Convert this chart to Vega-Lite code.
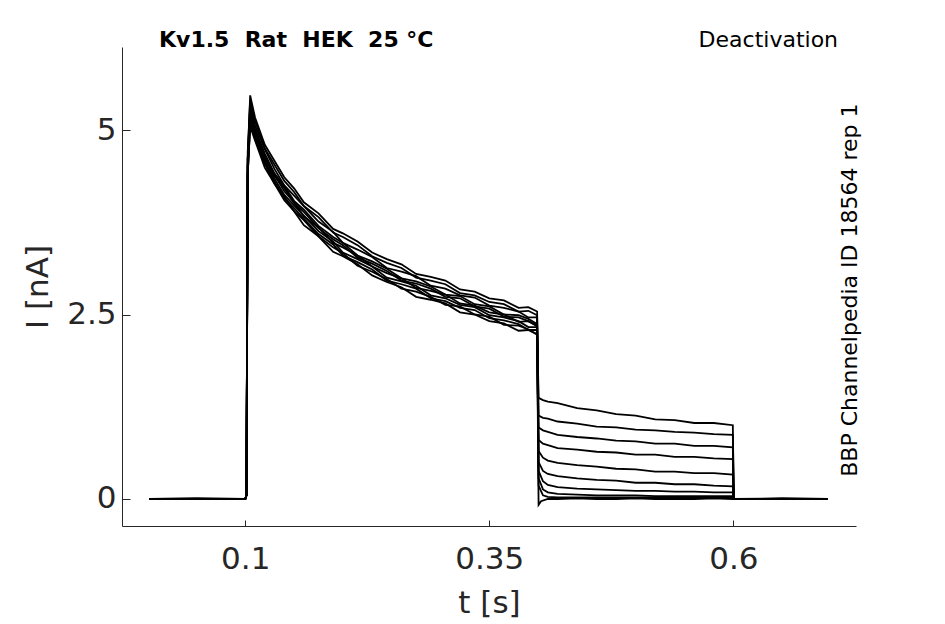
{
  "$schema": "https://vega.github.io/schema/vega-lite/v6.json",
  "width": 734,
  "height": 479,
  "autosize": {"type": "none"},
  "padding": {"left": 122, "top": 47, "right": 89, "bottom": 98},
  "background": "white",
  "config": {
    "view": {"stroke": null},
    "font": "DejaVu Sans",
    "axis": {
      "grid": false,
      "labelFont": "DejaVu Sans",
      "titleFont": "DejaVu Sans",
      "labelFontSize": 31,
      "titleFontSize": 31,
      "titleFontWeight": "normal",
      "labelColor": "#262626",
      "titleColor": "#262626",
      "domainColor": "#262626",
      "tickColor": "#262626",
      "domainWidth": 1,
      "tickWidth": 1
    }
  },
  "datasets": {
    "traces": [
      {"s":1,"t":0.002,"i":0},{"s":1,"t":0.05,"i":0.01},{"s":1,"t":0.1,"i":0},{"s":1,"t":0.1012,"i":0.05},{"s":1,"t":0.1025,"i":4.6},{"s":1,"t":0.105,"i":5.28},
      {"s":1,"t":0.11,"i":5.02},{"s":1,"t":0.12,"i":4.68},{"s":1,"t":0.13,"i":4.41},{"s":1,"t":0.14,"i":4.24},{"s":1,"t":0.15,"i":4.04},{"s":1,"t":0.16,"i":3.92},{"s":1,"t":0.175,"i":3.70},{"s":1,"t":0.19,"i":3.55},{"s":1,"t":0.2,"i":3.47},{"s":1,"t":0.215,"i":3.30},{"s":1,"t":0.23,"i":3.22},{"s":1,"t":0.245,"i":3.12},{"s":1,"t":0.26,"i":2.99},{"s":1,"t":0.275,"i":2.95},{"s":1,"t":0.29,"i":2.88},{"s":1,"t":0.305,"i":2.77},{"s":1,"t":0.32,"i":2.75},{"s":1,"t":0.335,"i":2.64},{"s":1,"t":0.35,"i":2.61},{"s":1,"t":0.365,"i":2.50},{"s":1,"t":0.38,"i":2.49},{"s":1,"t":0.39,"i":2.44},{"s":1,"t":0.399,"i":2.37},
      {"s":1,"t":0.4005,"i":1.37},{"s":1,"t":0.405,"i":1.34},{"s":1,"t":0.41,"i":1.32},{"s":1,"t":0.42,"i":1.30},{"s":1,"t":0.44,"i":1.23},{"s":1,"t":0.46,"i":1.20},{"s":1,"t":0.48,"i":1.15},{"s":1,"t":0.5,"i":1.13},{"s":1,"t":0.52,"i":1.08},{"s":1,"t":0.54,"i":1.07},{"s":1,"t":0.56,"i":1.03},{"s":1,"t":0.58,"i":1.03},{"s":1,"t":0.5995,"i":1.00},
      {"s":1,"t":0.6005,"i":0},{"s":1,"t":0.65,"i":0},{"s":1,"t":0.697,"i":0},

      {"s":2,"t":0.002,"i":0},{"s":2,"t":0.05,"i":0},{"s":2,"t":0.1,"i":0},{"s":2,"t":0.1012,"i":0.05},{"s":2,"t":0.1025,"i":4.6},{"s":2,"t":0.105,"i":5.47},
      {"s":2,"t":0.11,"i":5.17},{"s":2,"t":0.12,"i":4.80},{"s":2,"t":0.13,"i":4.58},{"s":2,"t":0.14,"i":4.36},{"s":2,"t":0.15,"i":4.21},{"s":2,"t":0.16,"i":4.02},{"s":2,"t":0.175,"i":3.87},{"s":2,"t":0.19,"i":3.66},{"s":2,"t":0.2,"i":3.60},{"s":2,"t":0.215,"i":3.49},{"s":2,"t":0.23,"i":3.34},{"s":2,"t":0.245,"i":3.25},{"s":2,"t":0.26,"i":3.18},{"s":2,"t":0.275,"i":3.05},{"s":2,"t":0.29,"i":3.01},{"s":2,"t":0.305,"i":2.96},{"s":2,"t":0.32,"i":2.84},{"s":2,"t":0.335,"i":2.81},{"s":2,"t":0.35,"i":2.72},{"s":2,"t":0.365,"i":2.69},{"s":2,"t":0.38,"i":2.59},{"s":2,"t":0.39,"i":2.60},{"s":2,"t":0.399,"i":2.54},
      {"s":2,"t":0.4005,"i":1.13},{"s":2,"t":0.405,"i":1.10},{"s":2,"t":0.41,"i":1.09},{"s":2,"t":0.42,"i":1.05},{"s":2,"t":0.44,"i":1.02},{"s":2,"t":0.46,"i":0.98},{"s":2,"t":0.48,"i":0.97},{"s":2,"t":0.5,"i":0.94},{"s":2,"t":0.52,"i":0.93},{"s":2,"t":0.54,"i":0.91},{"s":2,"t":0.56,"i":0.90},{"s":2,"t":0.58,"i":0.88},{"s":2,"t":0.5995,"i":0.87},
      {"s":2,"t":0.6005,"i":0},{"s":2,"t":0.65,"i":0.01},{"s":2,"t":0.697,"i":0},

      {"s":3,"t":0.002,"i":0},{"s":3,"t":0.05,"i":0},{"s":3,"t":0.1,"i":0},{"s":3,"t":0.1012,"i":0.05},{"s":3,"t":0.1025,"i":4.5},{"s":3,"t":0.105,"i":5.18},
      {"s":3,"t":0.11,"i":4.93},{"s":3,"t":0.12,"i":4.61},{"s":3,"t":0.13,"i":4.34},{"s":3,"t":0.14,"i":4.12},{"s":3,"t":0.15,"i":3.98},{"s":3,"t":0.16,"i":3.84},{"s":3,"t":0.175,"i":3.63},{"s":3,"t":0.19,"i":3.49},{"s":3,"t":0.2,"i":3.34},{"s":3,"t":0.215,"i":3.25},{"s":3,"t":0.23,"i":3.15},{"s":3,"t":0.245,"i":3.00},{"s":3,"t":0.26,"i":2.95},{"s":3,"t":0.275,"i":2.89},{"s":3,"t":0.29,"i":2.76},{"s":3,"t":0.305,"i":2.72},{"s":3,"t":0.32,"i":2.63},{"s":3,"t":0.335,"i":2.60},{"s":3,"t":0.35,"i":2.49},{"s":3,"t":0.365,"i":2.46},{"s":3,"t":0.38,"i":2.41},{"s":3,"t":0.39,"i":2.33},{"s":3,"t":0.399,"i":2.33},
      {"s":3,"t":0.4005,"i":0.97},{"s":3,"t":0.405,"i":0.93},{"s":3,"t":0.41,"i":0.91},{"s":3,"t":0.42,"i":0.87},{"s":3,"t":0.44,"i":0.84},{"s":3,"t":0.46,"i":0.82},{"s":3,"t":0.48,"i":0.79},{"s":3,"t":0.5,"i":0.78},{"s":3,"t":0.52,"i":0.75},{"s":3,"t":0.54,"i":0.75},{"s":3,"t":0.56,"i":0.72},{"s":3,"t":0.58,"i":0.72},{"s":3,"t":0.5995,"i":0.70},
      {"s":3,"t":0.6005,"i":0},{"s":3,"t":0.65,"i":0},{"s":3,"t":0.697,"i":0},

      {"s":4,"t":0.002,"i":0},{"s":4,"t":0.05,"i":0},{"s":4,"t":0.1,"i":0},{"s":4,"t":0.1012,"i":0.05},{"s":4,"t":0.1025,"i":4.6},{"s":4,"t":0.105,"i":5.34},
      {"s":4,"t":0.11,"i":5.06},{"s":4,"t":0.12,"i":4.74},{"s":4,"t":0.13,"i":4.47},{"s":4,"t":0.14,"i":4.25},{"s":4,"t":0.15,"i":4.11},{"s":4,"t":0.16,"i":3.97},{"s":4,"t":0.175,"i":3.76},{"s":4,"t":0.19,"i":3.62},{"s":4,"t":0.2,"i":3.47},{"s":4,"t":0.215,"i":3.38},{"s":4,"t":0.23,"i":3.28},{"s":4,"t":0.245,"i":3.13},{"s":4,"t":0.26,"i":3.08},{"s":4,"t":0.275,"i":3.02},{"s":4,"t":0.29,"i":2.89},{"s":4,"t":0.305,"i":2.85},{"s":4,"t":0.32,"i":2.76},{"s":4,"t":0.335,"i":2.73},{"s":4,"t":0.35,"i":2.62},{"s":4,"t":0.365,"i":2.59},{"s":4,"t":0.38,"i":2.54},{"s":4,"t":0.39,"i":2.46},{"s":4,"t":0.399,"i":2.46},
      {"s":4,"t":0.4005,"i":0.80},{"s":4,"t":0.405,"i":0.75},{"s":4,"t":0.41,"i":0.73},{"s":4,"t":0.42,"i":0.69},{"s":4,"t":0.44,"i":0.67},{"s":4,"t":0.46,"i":0.64},{"s":4,"t":0.48,"i":0.63},{"s":4,"t":0.5,"i":0.60},{"s":4,"t":0.52,"i":0.60},{"s":4,"t":0.54,"i":0.57},{"s":4,"t":0.56,"i":0.57},{"s":4,"t":0.58,"i":0.55},{"s":4,"t":0.5995,"i":0.54},
      {"s":4,"t":0.6005,"i":0},{"s":4,"t":0.65,"i":0},{"s":4,"t":0.697,"i":0},

      {"s":5,"t":0.002,"i":0},{"s":5,"t":0.05,"i":0},{"s":5,"t":0.1,"i":0},{"s":5,"t":0.1012,"i":0.05},{"s":5,"t":0.1025,"i":4.4},{"s":5,"t":0.105,"i":5.05},
      {"s":5,"t":0.11,"i":4.86},{"s":5,"t":0.12,"i":4.49},{"s":5,"t":0.13,"i":4.27},{"s":5,"t":0.14,"i":4.05},{"s":5,"t":0.15,"i":3.90},{"s":5,"t":0.16,"i":3.71},{"s":5,"t":0.175,"i":3.56},{"s":5,"t":0.19,"i":3.35},{"s":5,"t":0.2,"i":3.29},{"s":5,"t":0.215,"i":3.18},{"s":5,"t":0.23,"i":3.03},{"s":5,"t":0.245,"i":2.94},{"s":5,"t":0.26,"i":2.87},{"s":5,"t":0.275,"i":2.74},{"s":5,"t":0.29,"i":2.70},{"s":5,"t":0.305,"i":2.65},{"s":5,"t":0.32,"i":2.53},{"s":5,"t":0.335,"i":2.50},{"s":5,"t":0.35,"i":2.41},{"s":5,"t":0.365,"i":2.38},{"s":5,"t":0.38,"i":2.28},{"s":5,"t":0.39,"i":2.29},{"s":5,"t":0.399,"i":2.23},
      {"s":5,"t":0.4005,"i":0.65},{"s":5,"t":0.405,"i":0.56},{"s":5,"t":0.41,"i":0.52},{"s":5,"t":0.42,"i":0.49},{"s":5,"t":0.44,"i":0.46},{"s":5,"t":0.46,"i":0.44},{"s":5,"t":0.48,"i":0.41},{"s":5,"t":0.5,"i":0.40},{"s":5,"t":0.52,"i":0.37},{"s":5,"t":0.54,"i":0.37},{"s":5,"t":0.56,"i":0.35},{"s":5,"t":0.58,"i":0.35},{"s":5,"t":0.5995,"i":0.33},
      {"s":5,"t":0.6005,"i":0},{"s":5,"t":0.65,"i":0},{"s":5,"t":0.697,"i":0},

      {"s":6,"t":0.002,"i":0},{"s":6,"t":0.05,"i":0},{"s":6,"t":0.1,"i":0},{"s":6,"t":0.1012,"i":0.05},{"s":6,"t":0.1025,"i":4.5},{"s":6,"t":0.105,"i":5.24},
      {"s":6,"t":0.11,"i":4.99},{"s":6,"t":0.12,"i":4.65},{"s":6,"t":0.13,"i":4.38},{"s":6,"t":0.14,"i":4.21},{"s":6,"t":0.15,"i":4.01},{"s":6,"t":0.16,"i":3.89},{"s":6,"t":0.175,"i":3.67},{"s":6,"t":0.19,"i":3.52},{"s":6,"t":0.2,"i":3.44},{"s":6,"t":0.215,"i":3.27},{"s":6,"t":0.23,"i":3.19},{"s":6,"t":0.245,"i":3.09},{"s":6,"t":0.26,"i":2.96},{"s":6,"t":0.275,"i":2.92},{"s":6,"t":0.29,"i":2.85},{"s":6,"t":0.305,"i":2.74},{"s":6,"t":0.32,"i":2.72},{"s":6,"t":0.335,"i":2.61},{"s":6,"t":0.35,"i":2.58},{"s":6,"t":0.365,"i":2.47},{"s":6,"t":0.38,"i":2.46},{"s":6,"t":0.39,"i":2.41},{"s":6,"t":0.399,"i":2.34},
      {"s":6,"t":0.4005,"i":0.50},{"s":6,"t":0.405,"i":0.38},{"s":6,"t":0.41,"i":0.34},{"s":6,"t":0.42,"i":0.31},{"s":6,"t":0.44,"i":0.28},{"s":6,"t":0.46,"i":0.26},{"s":6,"t":0.48,"i":0.25},{"s":6,"t":0.5,"i":0.22},{"s":6,"t":0.52,"i":0.22},{"s":6,"t":0.54,"i":0.20},{"s":6,"t":0.56,"i":0.20},{"s":6,"t":0.58,"i":0.18},{"s":6,"t":0.5995,"i":0.17},
      {"s":6,"t":0.6005,"i":0},{"s":6,"t":0.65,"i":0},{"s":6,"t":0.697,"i":0},

      {"s":7,"t":0.002,"i":0},{"s":7,"t":0.05,"i":0},{"s":7,"t":0.1,"i":0},{"s":7,"t":0.1012,"i":0.05},{"s":7,"t":0.1025,"i":4.7},{"s":7,"t":0.105,"i":5.41},
      {"s":7,"t":0.11,"i":5.12},{"s":7,"t":0.12,"i":4.75},{"s":7,"t":0.13,"i":4.53},{"s":7,"t":0.14,"i":4.31},{"s":7,"t":0.15,"i":4.16},{"s":7,"t":0.16,"i":3.97},{"s":7,"t":0.175,"i":3.82},{"s":7,"t":0.19,"i":3.61},{"s":7,"t":0.2,"i":3.55},{"s":7,"t":0.215,"i":3.44},{"s":7,"t":0.23,"i":3.29},{"s":7,"t":0.245,"i":3.20},{"s":7,"t":0.26,"i":3.13},{"s":7,"t":0.275,"i":3.00},{"s":7,"t":0.29,"i":2.96},{"s":7,"t":0.305,"i":2.91},{"s":7,"t":0.32,"i":2.79},{"s":7,"t":0.335,"i":2.76},{"s":7,"t":0.35,"i":2.67},{"s":7,"t":0.365,"i":2.64},{"s":7,"t":0.38,"i":2.54},{"s":7,"t":0.39,"i":2.55},{"s":7,"t":0.399,"i":2.49},
      {"s":7,"t":0.4005,"i":0.38},{"s":7,"t":0.405,"i":0.24},{"s":7,"t":0.41,"i":0.19},{"s":7,"t":0.42,"i":0.16},{"s":7,"t":0.44,"i":0.14},{"s":7,"t":0.46,"i":0.13},{"s":7,"t":0.48,"i":0.12},{"s":7,"t":0.5,"i":0.11},{"s":7,"t":0.52,"i":0.11},{"s":7,"t":0.54,"i":0.10},{"s":7,"t":0.56,"i":0.10},{"s":7,"t":0.58,"i":0.09},{"s":7,"t":0.5995,"i":0.09},
      {"s":7,"t":0.6005,"i":0},{"s":7,"t":0.65,"i":0},{"s":7,"t":0.697,"i":0},

      {"s":8,"t":0.002,"i":0},{"s":8,"t":0.05,"i":0},{"s":8,"t":0.1,"i":0},{"s":8,"t":0.1012,"i":0.05},{"s":8,"t":0.1025,"i":4.4},{"s":8,"t":0.105,"i":5.11},
      {"s":8,"t":0.11,"i":4.89},{"s":8,"t":0.12,"i":4.57},{"s":8,"t":0.13,"i":4.30},{"s":8,"t":0.14,"i":4.08},{"s":8,"t":0.15,"i":3.94},{"s":8,"t":0.16,"i":3.80},{"s":8,"t":0.175,"i":3.59},{"s":8,"t":0.19,"i":3.45},{"s":8,"t":0.2,"i":3.30},{"s":8,"t":0.215,"i":3.21},{"s":8,"t":0.23,"i":3.11},{"s":8,"t":0.245,"i":2.96},{"s":8,"t":0.26,"i":2.91},{"s":8,"t":0.275,"i":2.85},{"s":8,"t":0.29,"i":2.72},{"s":8,"t":0.305,"i":2.68},{"s":8,"t":0.32,"i":2.59},{"s":8,"t":0.335,"i":2.56},{"s":8,"t":0.35,"i":2.45},{"s":8,"t":0.365,"i":2.42},{"s":8,"t":0.38,"i":2.37},{"s":8,"t":0.39,"i":2.29},{"s":8,"t":0.399,"i":2.29},
      {"s":8,"t":0.4005,"i":0.28},{"s":8,"t":0.405,"i":0.13},{"s":8,"t":0.41,"i":0.09},{"s":8,"t":0.42,"i":0.07},{"s":8,"t":0.44,"i":0.06},{"s":8,"t":0.46,"i":0.05},{"s":8,"t":0.48,"i":0.05},{"s":8,"t":0.5,"i":0.05},{"s":8,"t":0.52,"i":0.04},{"s":8,"t":0.54,"i":0.04},{"s":8,"t":0.56,"i":0.04},{"s":8,"t":0.58,"i":0.04},{"s":8,"t":0.5995,"i":0.04},
      {"s":8,"t":0.6005,"i":0},{"s":8,"t":0.65,"i":0},{"s":8,"t":0.697,"i":0},

      {"s":9,"t":0.002,"i":0},{"s":9,"t":0.05,"i":0},{"s":9,"t":0.1,"i":0},{"s":9,"t":0.1012,"i":0.05},{"s":9,"t":0.1025,"i":4.5},{"s":9,"t":0.105,"i":5.20},
      {"s":9,"t":0.11,"i":4.98},{"s":9,"t":0.12,"i":4.61},{"s":9,"t":0.13,"i":4.39},{"s":9,"t":0.14,"i":4.17},{"s":9,"t":0.15,"i":4.02},{"s":9,"t":0.16,"i":3.83},{"s":9,"t":0.175,"i":3.68},{"s":9,"t":0.19,"i":3.47},{"s":9,"t":0.2,"i":3.41},{"s":9,"t":0.215,"i":3.30},{"s":9,"t":0.23,"i":3.15},{"s":9,"t":0.245,"i":3.06},{"s":9,"t":0.26,"i":2.99},{"s":9,"t":0.275,"i":2.86},{"s":9,"t":0.29,"i":2.82},{"s":9,"t":0.305,"i":2.77},{"s":9,"t":0.32,"i":2.65},{"s":9,"t":0.335,"i":2.62},{"s":9,"t":0.35,"i":2.53},{"s":9,"t":0.365,"i":2.50},{"s":9,"t":0.38,"i":2.40},{"s":9,"t":0.39,"i":2.41},{"s":9,"t":0.399,"i":2.35},
      {"s":9,"t":0.4005,"i":0.18},{"s":9,"t":0.405,"i":0.05},{"s":9,"t":0.41,"i":0.03},{"s":9,"t":0.42,"i":0.02},{"s":9,"t":0.44,"i":0.02},{"s":9,"t":0.46,"i":0.02},{"s":9,"t":0.48,"i":0.02},{"s":9,"t":0.5,"i":0.02},{"s":9,"t":0.52,"i":0.02},{"s":9,"t":0.54,"i":0.02},{"s":9,"t":0.56,"i":0.02},{"s":9,"t":0.58,"i":0.02},{"s":9,"t":0.5995,"i":0.02},
      {"s":9,"t":0.6005,"i":0},{"s":9,"t":0.65,"i":0},{"s":9,"t":0.697,"i":0},

      {"s":10,"t":0.002,"i":0},{"s":10,"t":0.05,"i":0},{"s":10,"t":0.1,"i":0},{"s":10,"t":0.1012,"i":0.05},{"s":10,"t":0.1025,"i":4.4},{"s":10,"t":0.105,"i":5.08},
      {"s":10,"t":0.11,"i":4.88},{"s":10,"t":0.12,"i":4.54},{"s":10,"t":0.13,"i":4.27},{"s":10,"t":0.14,"i":4.10},{"s":10,"t":0.15,"i":3.90},{"s":10,"t":0.16,"i":3.78},{"s":10,"t":0.175,"i":3.56},{"s":10,"t":0.19,"i":3.41},{"s":10,"t":0.2,"i":3.33},{"s":10,"t":0.215,"i":3.16},{"s":10,"t":0.23,"i":3.08},{"s":10,"t":0.245,"i":2.98},{"s":10,"t":0.26,"i":2.85},{"s":10,"t":0.275,"i":2.81},{"s":10,"t":0.29,"i":2.74},{"s":10,"t":0.305,"i":2.63},{"s":10,"t":0.32,"i":2.61},{"s":10,"t":0.335,"i":2.50},{"s":10,"t":0.35,"i":2.47},{"s":10,"t":0.365,"i":2.36},{"s":10,"t":0.38,"i":2.35},{"s":10,"t":0.39,"i":2.30},{"s":10,"t":0.399,"i":2.23},
      {"s":10,"t":0.4005,"i":-0.08},{"s":10,"t":0.403,"i":-0.03},{"s":10,"t":0.41,"i":0},{"s":10,"t":0.42,"i":0},{"s":10,"t":0.44,"i":0.01},{"s":10,"t":0.46,"i":0},{"s":10,"t":0.48,"i":0},{"s":10,"t":0.5,"i":0.01},{"s":10,"t":0.52,"i":0},{"s":10,"t":0.54,"i":0},{"s":10,"t":0.56,"i":0},{"s":10,"t":0.58,"i":0.01},{"s":10,"t":0.5995,"i":0},
      {"s":10,"t":0.6005,"i":0},{"s":10,"t":0.65,"i":0},{"s":10,"t":0.697,"i":0}
    ],
    "notes": [
      {"t": 0.0116, "i": 6.12, "label": "Kv1.5\u00a0\u00a0Rat\u00a0\u00a0HEK\u00a0\u00a025 °C", "kind": "head"},
      {"t": 0.7073, "i": 6.12, "label": "Deactivation", "kind": "protocol"},
      {"t": 0.7196, "i": 2.83, "label": "BBP Channelpedia ID 18564 rep 1", "kind": "source"}
    ]
  },
  "encoding": {
    "x": {
      "field": "t",
      "type": "quantitative",
      "title": "t [s]",
      "scale": {"domain": [-0.0263, 0.7257], "nice": false, "zero": false},
      "axis": {"values": [0.1, 0.35, 0.6], "format": ".2~f", "tickSize": -6, "labelPadding": 24, "titlePadding": 14}
    },
    "y": {
      "field": "i",
      "type": "quantitative",
      "title": "I [nA]",
      "scale": {"domain": [-0.366, 6.125], "nice": false, "zero": false},
      "axis": {"values": [0, 2.5, 5], "format": ".2~f", "tickSize": -8, "labelPadding": 14, "titlePadding": 12}
    }
  },
  "layer": [
    {
      "data": {"name": "traces"},
      "mark": {"type": "line", "color": "black", "strokeWidth": 1.8, "clip": true},
      "encoding": {"detail": {"field": "s", "type": "nominal"}}
    },
    {
      "data": {"name": "notes"},
      "transform": [{"filter": "datum.kind == 'head'"}],
      "mark": {"type": "text", "align": "left", "baseline": "alphabetic", "font": "DejaVu Sans", "fontSize": 22, "fontWeight": "bold", "color": "black"},
      "encoding": {"text": {"field": "label"}}
    },
    {
      "data": {"name": "notes"},
      "transform": [{"filter": "datum.kind == 'protocol'"}],
      "mark": {"type": "text", "align": "right", "baseline": "alphabetic", "font": "DejaVu Sans", "fontSize": 22, "color": "black"},
      "encoding": {"text": {"field": "label"}}
    },
    {
      "data": {"name": "notes"},
      "transform": [{"filter": "datum.kind == 'source'"}],
      "mark": {"type": "text", "align": "center", "baseline": "middle", "angle": 270, "font": "DejaVu Sans", "fontSize": 22, "color": "black"},
      "encoding": {"text": {"field": "label"}}
    }
  ]
}
